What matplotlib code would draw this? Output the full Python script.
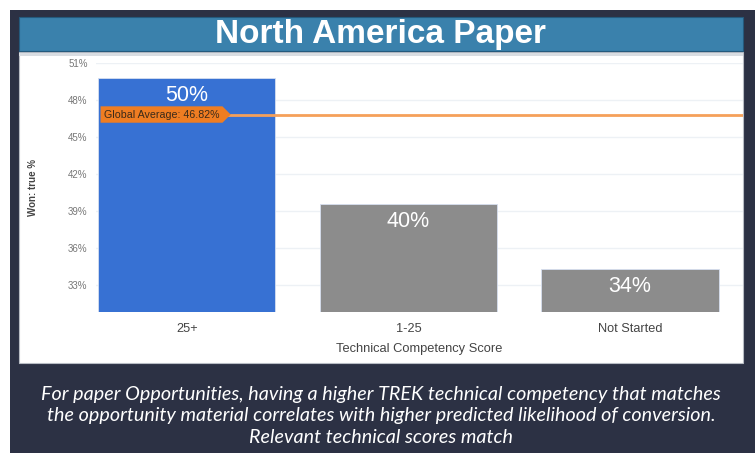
import matplotlib.pyplot as plt
import matplotlib.patches as mpatches
from matplotlib.path import Path

# Datos del gráfico
categorias = ["25+", "1-25", "Not Started"]
valores = [49.8, 39.6, 34.3]
etiquetas = ["50%", "40%", "34%"]
colores = ["#3771d3", "#8c8c8c", "#8c8c8c"]
promedio_global = 46.82
ticks_y = [33, 36, 39, 42, 45, 48, 51]

W, H = 755, 453
fig = plt.figure(figsize=(W / 100, H / 100), dpi=100)
fig.patch.set_facecolor("white")


def caja(px0, py0, px1, py1, color, z=0, **kw):
    # rectángulo en pixeles de la figura (origen arriba a la izquierda)
    r = mpatches.Rectangle((px0 / W, 1 - py1 / H), (px1 - px0) / W, (py1 - py0) / H,
                           transform=fig.transFigure, facecolor=color, zorder=z, **kw)
    fig.patches.append(r)


# Marco oscuro, panel blanco y banda del título
caja(10, 10, 755, 453, "#2c3144")
caja(19, 52, 743, 363, "white", z=1, edgecolor="#b8bcc4", linewidth=0.8)
caja(19, 53, 743, 56, "#d9dde2", z=1.5)
caja(19, 17, 743, 51, "#3a81ac", z=2, edgecolor="#245a7d", linewidth=0.8)

fig.text(381 / W, 1 - 35 / H, "North America Paper", ha="center", va="center",
         color="white", fontsize=24, fontweight="bold", family="Liberation Sans",
         zorder=3)

# Ejes del gráfico
ax = fig.add_axes([96 / W, 1 - 312 / H, (743 - 96) / W, (312 - 63) / H])
ax.set_zorder(3)
ax.patch.set_alpha(0)

x = range(len(categorias))
ax.bar(x, valores, width=0.8, color=colores, edgecolor="#d6dff0", linewidth=0.6, zorder=2)
for i, (v, t) in enumerate(zip(valores, etiquetas)):
    ax.text(i, v - 1.45, t, ha="center", va="center", color="white", fontsize=15.5,
            family="Liberation Sans", zorder=4)

ax.set_xlim(-0.41, 2.51)
ax.set_ylim(30.8, 51)
ax.set_yticks(ticks_y)
ax.set_yticklabels([f"{t}%" for t in ticks_y])
ax.grid(axis="y", color="#edf1f5", linewidth=1, zorder=0)
ax.set_axisbelow(True)
for s in ax.spines.values():
    s.set_visible(False)
ax.tick_params(axis="y", length=0, pad=6, labelsize=7, labelcolor="#777777")
ax.tick_params(axis="x", length=0, pad=8, labelsize=9.2, labelcolor="#444444")
ax.set_xticks(list(x))
ax.set_xticklabels(categorias, family="Liberation Sans")
for lbl in ax.get_yticklabels():
    lbl.set_family("Liberation Sans")
ax.set_xlabel("Technical Competency Score", fontsize=9.3, color="#444444",
              family="Liberation Sans", labelpad=6)
ax.set_ylabel("Won: true %", fontsize=7, color="#444444", fontweight="bold",
              family="Liberation Sans")
ax.yaxis.set_label_coords((38 - 96) / (743 - 96), 0.5)

# Línea de promedio global con etiqueta en forma de flecha
ax.axhline(promedio_global, xmin=0.08, color="#f5a05a", linewidth=2, zorder=3)


def pentagono(x0, y0, width, height, mutation_size):
    pad = 0.3 * mutation_size
    x0, y0 = x0 - pad, y0 - pad
    x1, y1 = x0 + width + 2 * pad, y0 + height + 2 * pad
    punta = (y1 - y0) / 2
    verts = [(x0, y0), (x1, y0), (x1 + punta, (y0 + y1) / 2), (x1, y1), (x0, y1), (x0, y0)]
    return Path(verts, closed=True)


ax.text(-0.375, promedio_global, f"Global Average: {promedio_global:.2f}%",
        ha="left", va="center", fontsize=7.7, color="#3a2a1a",
        family="Liberation Sans", zorder=5,
        bbox=dict(boxstyle=pentagono, facecolor="#ef7d22", edgecolor="none"))

# Texto inferior
texto = ("For paper Opportunities, having a higher TREK technical competency that matches\n"
         "the opportunity material correlates with higher predicted likelihood of conversion.\n"
         "Relevant technical scores match")
fig.text(381 / W, 1 - 416 / H, texto, ha="center", va="center", color="white",
         fontsize=14.2, style="italic", family="Lato", linespacing=1.32, zorder=3)

fig.savefig("out.png", dpi=100)
